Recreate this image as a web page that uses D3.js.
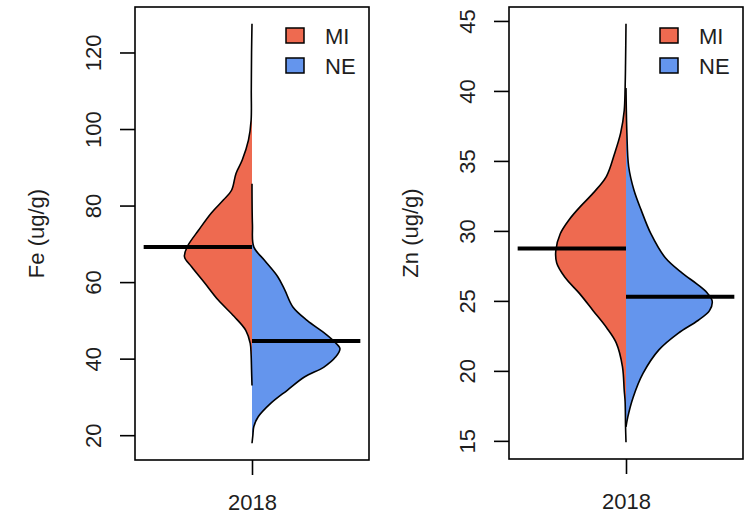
<!DOCTYPE html>
<html>
<head>
<meta charset="utf-8">
<script src="https://cdn.jsdelivr.net/npm/d3@7"></script>
<style>
  html, body { margin: 0; padding: 0; background: #fff; }
  svg { display: block; font-family: "Liberation Sans", Arial, Helvetica, sans-serif; }
</style>
</head>
<body>
<svg id="chart" width="746" height="515"></svg>
<script>
// Split violins of Fe and Zn concentration, MI vs NE, 2018
const years = ["2018"];
const groups = ["MI", "NE"];
const groupColors = ["#EE6A50", "#6495ED"];

// Fe (ug/g): kernel density profiles (value, relative density)
const feMIValues  = [127.5, 120, 110, 102.3, 97.1, 91.9, 88.4, 84, 81.5, 78, 73.6, 69.2, 66.6, 64, 59.7, 55.3, 51, 47.4, 44, 41, 37, 33];
const feMIDensity = [0, .005, .008, .01, .04, .11, .18, .23, .32, .46, .60, .73, .76, .68, .53, .38, .20, .07, .02, .01, .005, 0];
const feNEValues  = [85.7, 75, 69.2, 65.7, 61.4, 57.9, 53.5, 50, 46.6, 44.6, 42.6, 40.4, 37.8, 35.2, 31.8, 28.3, 24.8, 22.2, 20, 17.9];
const feNEDensity = [0, .005, .02, .14, .29, .37, .46, .62, .82, .92, .99, .94, .81, .59, .40, .21, .07, .02, .01, 0];
const feMedians = [69.2, 44.6];
const feTicks = [20, 40, 60, 80, 100, 120];
const feRange = [17.9, 127.5];

// Zn (ug/g)
const znMIValues  = [44.8, 42, 40.2, 38.6, 37, 35.5, 33.9, 32.7, 31.7, 30.8, 29.8, 28.6, 27.7, 26.7, 25.5, 24.3, 23.1, 22, 20.3, 18.6, 17.8, 16, 14.9];
const znMIDensity = [0, .005, .01, .02, .06, .13, .22, .37, .52, .64, .74, .79, .78, .69, .52, .37, .22, .11, .04, .02, .01, .005, 0];
const znNEValues  = [40.2, 37, 34.6, 32.9, 31.5, 29.8, 28.1, 27, 26.2, 25.6, 25, 24.3, 23.6, 22.7, 21.5, 19.8, 18.1, 16.7, 16];
const znNEDensity = [0, .01, .03, .09, .17, .28, .44, .63, .80, .91, .97, .94, .81, .59, .37, .19, .08, .02, 0];
const znMedians = [28.74, 25.29];
const znTicks = [15, 20, 25, 30, 35, 40, 45];
const znRange = [14.9, 44.8];

const svg = d3.select("#chart");
const fontSize = 22;
const textColor = "#1e1e1e";

function drawPanel(opts) {
  const { left, right, top, bottom, label, ticks, range, profiles, medians } = opts;
  const g = svg.append("g");

  // R-style 4% padding of the data range
  const pad = (range[1] - range[0]) * 0.04;
  const y = d3.scaleLinear().domain([range[0] - pad, range[1] + pad]).range([bottom, top]);
  const x = d3.scaleLinear().domain([0.46, 1.54]).range([left, right]);
  const halfWidth = 0.41; // x units for relative density 1
  const pos = 1;

  // violin halves: fills first
  profiles.forEach((p, i) => {
    const side = i === 0 ? -1 : 1;
    const pts = p.values.map((v, k) => ({ v, d: p.density[k] }));
    const area = d3.area()
      .y(d => y(d.v))
      .x0(() => x(pos))
      .x1(d => x(pos + side * d.d * halfWidth))
      .curve(d3.curveCatmullRom.alpha(0.5));
    g.append("path").attr("d", area(pts)).attr("fill", groupColors[i]).attr("stroke", "none");
  });
  // outlines of the curved sides
  profiles.forEach((p, i) => {
    const side = i === 0 ? -1 : 1;
    const pts = p.values.map((v, k) => ({ v, d: p.density[k] }));
    const line = d3.line()
      .y(d => y(d.v))
      .x(d => x(pos + side * d.d * halfWidth))
      .curve(d3.curveCatmullRom.alpha(0.5));
    g.append("path").attr("d", line(pts)).attr("fill", "none")
      .attr("stroke", "#000").attr("stroke-width", 1.6);
  });

  // medians
  medians.forEach((m, i) => {
    const x0 = i === 0 ? pos - 0.5 : pos;
    const x1 = i === 0 ? pos : pos + 0.5;
    g.append("line")
      .attr("x1", x(x0)).attr("x2", x(x1))
      .attr("y1", y(m)).attr("y2", y(m))
      .attr("stroke", "#000").attr("stroke-width", 4);
  });

  // plot box
  g.append("rect")
    .attr("x", left).attr("y", top)
    .attr("width", right - left).attr("height", bottom - top)
    .attr("fill", "none").attr("stroke", "#000").attr("stroke-width", 1.6);

  // y axis
  const yAxis = g.append("g").attr("transform", `translate(${left},0)`)
    .call(d3.axisLeft(y).tickValues(ticks).tickSize(15).tickFormat(d3.format("d")));
  yAxis.select(".domain").remove();
  yAxis.selectAll(".tick line").attr("stroke", "#000").attr("stroke-width", 1.6);
  yAxis.selectAll(".tick text")
    .attr("x", null).attr("dy", null)
    .attr("transform", "translate(-34,0) rotate(-90)")
    .attr("text-anchor", "middle")
    .attr("font-size", fontSize)
    .attr("font-family", "Liberation Sans, Arial, sans-serif")
    .attr("fill", textColor);

  // x axis
  const xAxis = g.append("g").attr("transform", `translate(0,${bottom})`)
    .call(d3.axisBottom(x).tickValues([pos]).tickSize(15).tickFormat((d, k) => years[k]));
  xAxis.select(".domain").remove();
  xAxis.selectAll(".tick line").attr("stroke", "#000").attr("stroke-width", 1.6);
  xAxis.selectAll(".tick text")
    .attr("y", 50).attr("dy", null)
    .attr("font-size", fontSize)
    .attr("font-family", "Liberation Sans, Arial, sans-serif")
    .attr("fill", textColor);

  // y axis title
  g.append("text")
    .attr("transform", `translate(${left - 91},${(top + bottom) / 2}) rotate(-90)`)
    .attr("text-anchor", "middle")
    .attr("font-size", fontSize)
    .attr("fill", textColor)
    .text(label);

  // legend
  const lg = g.append("g").attr("transform", `translate(${right - 83},${top + 21})`);
  groups.forEach((name, i) => {
    lg.append("rect")
      .attr("x", 0).attr("y", i * 30)
      .attr("width", 18).attr("height", 15)
      .attr("fill", groupColors[i]).attr("stroke", "#000").attr("stroke-width", 1.5);
    lg.append("text")
      .attr("x", 39).attr("y", i * 30 + 16)
      .attr("font-size", fontSize)
      .attr("fill", textColor)
      .text(name);
  });
}

drawPanel({
  left: 135, right: 369, top: 7, bottom: 460,
  label: "Fe (ug/g)", ticks: feTicks, range: feRange,
  profiles: [
    { values: feMIValues, density: feMIDensity },
    { values: feNEValues, density: feNEDensity }
  ],
  medians: feMedians
});

drawPanel({
  left: 509, right: 743, top: 7, bottom: 459,
  label: "Zn (ug/g)", ticks: znTicks, range: znRange,
  profiles: [
    { values: znMIValues, density: znMIDensity },
    { values: znNEValues, density: znNEDensity }
  ],
  medians: znMedians
});
</script>
</body>
</html>
